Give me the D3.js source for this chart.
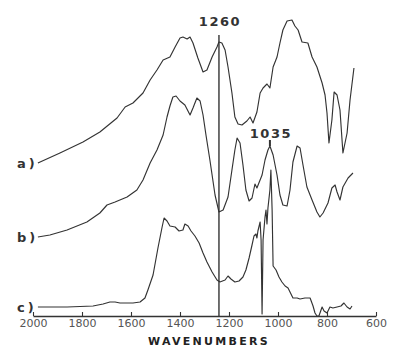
<!DOCTYPE html>
<html>
<head>
<meta charset="utf-8">
<script src="https://cdn.jsdelivr.net/npm/d3@7"></script>
<style>
  body { margin: 0; background: #fff; }
  svg { display: block; }
</style>
</head>
<body>
<div id="chart"></div>
<script>

// Tick labels on the wavenumber axis.
var tickValues = [2000, 1800, 1600, 1400, 1200, 1000, 800, 600];

// Spectra as [wavenumber, absorbance (offset, arbitrary units)].
var spectrumA = [
  [1980, 1.53], [1890, 1.63], [1796, 1.74], [1727, 1.84], [1657, 1.98], [1624, 2.09],
  [1592, 2.13], [1551, 2.23], [1522, 2.36], [1494, 2.46], [1469, 2.56], [1441, 2.59],
  [1420, 2.69], [1400, 2.78], [1388, 2.79], [1371, 2.77], [1359, 2.79], [1347, 2.73],
  [1327, 2.58], [1306, 2.44], [1290, 2.46], [1269, 2.59], [1249, 2.69], [1241, 2.74],
  [1229, 2.73], [1216, 2.66], [1204, 2.49], [1188, 2.23], [1176, 1.99], [1163, 1.92],
  [1147, 1.91], [1127, 1.95], [1114, 1.99], [1102, 1.93], [1086, 2.04], [1073, 2.23],
  [1061, 2.28], [1045, 2.32], [1033, 2.28], [1020, 2.49], [1004, 2.59], [992, 2.73],
  [980, 2.86], [963, 2.95], [943, 2.96], [931, 2.90], [918, 2.86], [902, 2.74],
  [878, 2.73], [861, 2.59], [841, 2.49], [820, 2.33], [808, 2.21], [800, 2.03],
  [792, 1.73], [780, 1.96], [771, 2.24], [759, 2.21], [747, 2.06], [735, 1.63],
  [718, 1.83], [706, 2.16], [690, 2.48]
];

var spectrumB = [
  [1980, 0.79], [1931, 0.81], [1861, 0.86], [1780, 0.94], [1727, 1.03], [1698, 1.11],
  [1665, 1.14], [1616, 1.19], [1576, 1.26], [1551, 1.36], [1522, 1.53], [1494, 1.66],
  [1469, 1.81], [1453, 1.99], [1441, 2.10], [1429, 2.19], [1416, 2.20], [1400, 2.15],
  [1380, 2.11], [1359, 2.01], [1347, 2.08], [1331, 2.18], [1318, 2.15], [1306, 2.01],
  [1294, 1.81], [1278, 1.56], [1257, 1.21], [1241, 1.04], [1224, 1.06], [1204, 1.19],
  [1188, 1.46], [1176, 1.66], [1167, 1.78], [1155, 1.73], [1143, 1.51], [1131, 1.26],
  [1118, 1.15], [1106, 1.18], [1094, 1.32], [1086, 1.28], [1078, 1.33], [1065, 1.41],
  [1053, 1.56], [1041, 1.66], [1033, 1.70], [1020, 1.61], [1004, 1.41], [992, 1.21],
  [980, 1.11], [963, 1.10], [951, 1.26], [939, 1.54], [922, 1.70], [910, 1.68],
  [898, 1.51], [882, 1.29], [861, 1.16], [841, 1.04], [829, 0.99], [816, 1.03],
  [796, 1.13], [780, 1.28], [767, 1.31], [759, 1.24], [747, 1.16], [735, 1.29],
  [714, 1.38], [694, 1.43]
];

var spectrumC = [
  [1980, 0.09], [1861, 0.09], [1755, 0.10], [1714, 0.12], [1686, 0.14], [1665, 0.14],
  [1645, 0.13], [1592, 0.13], [1563, 0.14], [1543, 0.18], [1531, 0.26], [1510, 0.41],
  [1490, 0.68], [1473, 0.89], [1465, 0.98], [1453, 0.95], [1441, 0.90], [1420, 0.89],
  [1404, 0.85], [1388, 0.86], [1380, 0.92], [1367, 0.90], [1355, 0.85], [1339, 0.80],
  [1322, 0.73], [1306, 0.63], [1290, 0.54], [1269, 0.44], [1249, 0.36], [1237, 0.34],
  [1216, 0.36], [1204, 0.40], [1192, 0.37], [1176, 0.34], [1159, 0.35], [1143, 0.39],
  [1131, 0.46], [1118, 0.58], [1106, 0.71], [1098, 0.80], [1090, 0.82], [1086, 0.78],
  [1082, 0.85], [1073, 0.94], [1069, 0.76], [1065, 0.02], [1061, 0.76], [1053, 0.99],
  [1049, 1.06], [1045, 0.92], [1041, 1.08], [1033, 1.26], [1029, 1.46], [1024, 1.06],
  [1020, 0.50], [1008, 0.46], [996, 0.39], [984, 0.34], [971, 0.30], [959, 0.28],
  [951, 0.24], [939, 0.18], [922, 0.18], [910, 0.17], [890, 0.18], [869, 0.18],
  [857, 0.10], [849, 0.03], [841, 0.00], [833, 0.00], [820, 0.09], [812, 0.05],
  [800, 0.03], [788, 0.09], [776, 0.08], [759, 0.09], [743, 0.10], [731, 0.13],
  [718, 0.09], [706, 0.07], [698, 0.10]
];

var traceLabels = ["a)", "b)", "c)"];

// Band annotations: printed label and where the mark sits on the axis.
var bandLabels = ["1260", "1035"];
var bandPositions = [1241, 1033];

var fontFamily = '"DejaVu Sans", Verdana, sans-serif',
  ink = "#333";

var width = 396,
  height = 347;

var x = d3.scaleLinear().domain([2000, 600]).range([33, 376]),
  y = d3.scaleLinear().domain([0, 3]).range([316, 16]);

var svg = d3.select("#chart").append("svg")
  .attr("width", width)
  .attr("height", height);

// Spectra.
var line = d3.line()
  .x(function (d) { return x(d[0]); })
  .y(function (d) { return y(d[1]); });

var spectra = [spectrumA, spectrumB, spectrumC];

svg.selectAll(".spectrum")
  .data(spectra)
  .enter().append("path")
    .attr("class", "spectrum")
    .attr("d", line)
    .style("fill", "none")
    .style("stroke", ink)
    .style("stroke-width", 1.15)
    .style("stroke-linejoin", "round");

// Trace labels sit to the left of each spectrum's first point.
svg.selectAll(".label.trace")
  .data(traceLabels)
  .enter().append("text")
    .text(function (d) { return d; })
    .attr("x", x(2000) - 16)
    .attr("y", function (d, i) { return y(spectra[i][0][1]) + 5; })
    .style("font-family", fontFamily)
    .style("font-weight", "bold")
    .style("font-size", "13px")
    .style("letter-spacing", "3px")
    .style("fill", ink);

// 1260 band: full height vertical marker.
svg.append("line")
  .attr("x1", x(bandPositions[0]))
  .attr("x2", x(bandPositions[0]))
  .attr("y1", 35)
  .attr("y2", y(0))
  .style("stroke", ink)
  .style("stroke-width", 1.4);

// 1035 band: small tick over the peak of b.
svg.append("line")
  .attr("x1", x(bandPositions[1]))
  .attr("x2", x(bandPositions[1]))
  .attr("y1", y(1.76))
  .attr("y2", y(1.70))
  .style("stroke", ink)
  .style("stroke-width", 2);

svg.selectAll(".label.band")
  .data(bandLabels)
  .enter().append("text")
    .text(function (d) { return d; })
    .attr("x", function (d, i) { return x(bandPositions[i]) + 1; })
    .attr("y", function (d, i) { return i == 0 ? 26 : 138; })
    .style("text-anchor", "middle")
    .style("font-family", fontFamily)
    .style("font-weight", "bold")
    .style("font-size", "13px")
    .style("letter-spacing", "1.5px")
    .style("fill", ink);

// Wavenumber axis.
var xaxis = svg.append("g")
  .attr("class", "x-axis")
  .attr("transform", "translate(0," + y(0) + ")")
  .call(d3.axisBottom(x)
    .tickValues(tickValues)
    .tickFormat(d3.format("d"))
    .tickSizeInner(-4)
    .tickSizeOuter(0)
    .tickPadding(3));

xaxis.select(".domain").style("stroke", ink).style("stroke-width", 1.3);
xaxis.selectAll(".tick line").style("stroke", ink).style("stroke-width", 1.1);
xaxis.selectAll(".tick text")
  .style("font-family", fontFamily)
  .style("font-size", "11px")
  .style("fill", "#555");

svg.append("text")
  .text("WAVENUMBERS")
  .attr("x", 209)
  .attr("y", 345)
  .style("text-anchor", "middle")
  .style("font-family", fontFamily)
  .style("font-weight", "bold")
  .style("font-size", "11px")
  .style("letter-spacing", "2.3px")
  .style("fill", "#222");

</script>
</body>
</html>
